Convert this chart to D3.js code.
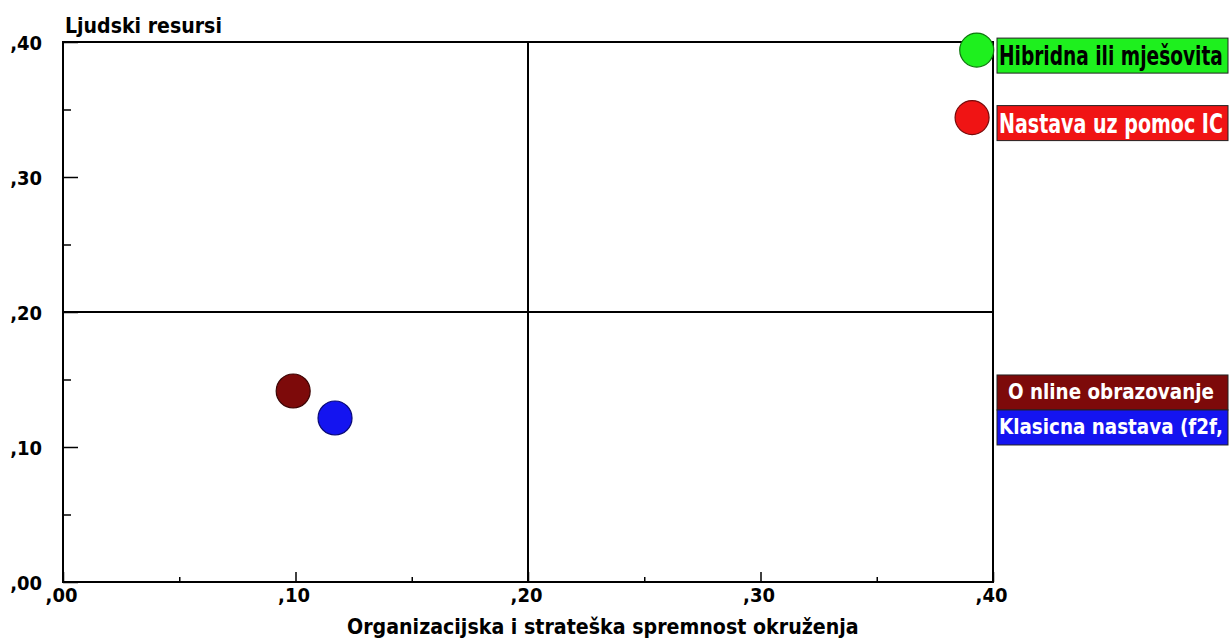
<!DOCTYPE html>
<html>
<head>
<meta charset="utf-8">
<script src="https://cdn.jsdelivr.net/npm/d3@7"></script>
<style>
  html, body { margin: 0; padding: 0; background: #fff; }
  svg { display: block; }
  text { font-family: "Liberation Sans Narrow", "DejaVu Sans Condensed", "Arial Narrow", sans-serif; font-weight: bold; }
</style>
</head>
<body>
<svg id="chart" width="1230" height="640"></svg>
<script>
// ---- data ----
const categories = ["Hibridna ili mješovita", "Nastava uz pomoc IC", "O nline obrazovanje", "Klasicna nastava (f2f,"];
const xValues = [0.393, 0.391, 0.099, 0.117];
const yValues = [0.394, 0.344, 0.1415, 0.1215];
const colors = ["#1ef01e", "#f01414", "#7d0a0a", "#1414f0"];
const textColors = ["#000000", "#ffffff", "#ffffff", "#ffffff"];
const tickValues = [0, 0.1, 0.2, 0.3, 0.4];
const tickLabels = [",00", ",10", ",20", ",30", ",40"];
const minorTicks = [0.05, 0.15, 0.25, 0.35];
const xTitle = "Organizacijska i strateška spremnost okruženja";
const yTitle = "Ljudski resursi";
const refX = 0.2, refY = 0.2;

// ---- layout ----
const svg = d3.select("#chart");
const L = 63, R = 993, T = 42, B = 582;
const x = d3.scaleLinear().domain([0, 0.4]).range([L, R]);
const y = d3.scaleLinear().domain([0, 0.4]).range([B, T]);
const fmt = d => tickLabels[tickValues.findIndex(v => Math.abs(v - d) < 1e-9)];

// x axis (ticks pointing up)
const gx = svg.append("g").attr("transform", `translate(0,${B})`);
gx.call(d3.axisBottom(x).tickValues(tickValues).tickFormat(fmt).tickSizeInner(-10).tickSizeOuter(0).tickPadding(6));
const gxm = svg.append("g").attr("transform", `translate(0,${B})`);
gxm.call(d3.axisBottom(x).tickValues(minorTicks).tickFormat("").tickSizeInner(-5).tickSizeOuter(0));

// y axis (ticks pointing right)
const gy = svg.append("g").attr("transform", `translate(${L},0)`);
gy.call(d3.axisLeft(y).tickValues(tickValues).tickFormat(fmt).tickSizeInner(-15).tickSizeOuter(0).tickPadding(21));
const gym = svg.append("g").attr("transform", `translate(${L},0)`);
gym.call(d3.axisLeft(y).tickValues(minorTicks).tickFormat("").tickSizeInner(-8).tickSizeOuter(0));

[gx, gxm, gy, gym].forEach(g => {
  g.select(".domain").remove();
  g.selectAll("line").attr("stroke", "#000").attr("stroke-width", 1.5);
  g.selectAll("text").attr("fill", "#000").attr("font-size", 20)
    .attr("font-family", "'Liberation Sans Narrow', 'DejaVu Sans Condensed', sans-serif").attr("font-weight", "bold");
});
gx.selectAll("text").attr("dy", "0.71em").attr("dx", -2);
gy.selectAll("text").attr("dy", "0.36em");

// frame
svg.append("rect").attr("x", L).attr("y", T).attr("width", R - L).attr("height", B - T)
  .attr("fill", "none").attr("stroke", "#000").attr("stroke-width", 2);

// reference lines
svg.append("line").attr("x1", x(refX)).attr("x2", x(refX)).attr("y1", T).attr("y2", B)
  .attr("stroke", "#000").attr("stroke-width", 2);
svg.append("line").attr("x1", L).attr("x2", R).attr("y1", y(refY)).attr("y2", y(refY))
  .attr("stroke", "#000").attr("stroke-width", 2);

// fit a text to a width by shrinking its font, then stretch it vertically back to a target height
function fitText(sel, px, py, targetW, sizePx) {
  sel.attr("font-size", sizePx).attr("x", 0).attr("y", 0);
  const w = sel.node().getComputedTextLength();
  const s = targetW / w;
  sel.attr("font-size", sizePx * s)
     .attr("transform", `translate(${px},${py}) scale(1,${1 / s})`);
}

// titles
fitText(svg.append("text").text(yTitle), 65, 33, 157, 22);
fitText(svg.append("text").text(xTitle), 347, 634, 512, 22);

// points
const pts = categories.map((c, i) => ({ c, x: xValues[i], y: yValues[i], col: colors[i], tc: textColors[i], i }));
svg.append("g").selectAll("circle").data(pts).join("circle")
  .attr("cx", d => x(d.x)).attr("cy", d => y(d.y)).attr("r", 17)
  .attr("fill", d => d.col)
  .attr("stroke", d => d3.color(d.col).darker(2)).attr("stroke-width", 1.2);

// labels: boxes near point's y, overlap resolved
const boxH = 35, boxX = 997, boxW = 231;
const lab = pts.map(d => ({ ...d, top: y(d.y) - 12 })).sort((a, b) => a.top - b.top);
for (let k = 1; k < lab.length; k++) {
  const ov = lab[k - 1].top + boxH - lab[k].top;
  if (ov > 0) { lab[k - 1].top -= ov / 2; lab[k].top += ov / 2; }
}
const gl = svg.append("g");
lab.forEach(d => {
  gl.append("rect").attr("x", boxX).attr("y", d.top).attr("width", boxW).attr("height", boxH)
    .attr("fill", d.col).attr("stroke", "#222").attr("stroke-width", 1);
  const big = d.i < 2;
  const t = gl.append("text").attr("fill", d.tc).text(d.c);
  if (d.i === 2) fitText(t, 1008, d.top + 24, 206, 21);
  else fitText(t, 999, d.top + (big ? 27 : 24), 224, big ? 26 : 21);
});
</script>
</body>
</html>
